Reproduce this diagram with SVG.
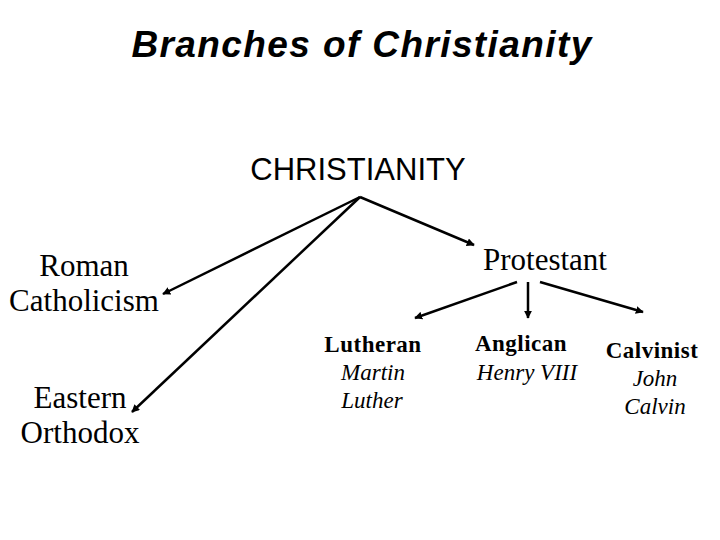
<svg xmlns="http://www.w3.org/2000/svg" width="720" height="540" viewBox="0 0 720 540">
<defs>
<marker id="ah" viewBox="0 0 10 10" refX="9" refY="5" markerWidth="3.2" markerHeight="3.2" orient="auto" markerUnits="strokeWidth">
<path d="M0,0 L10,5 L0,10 z" fill="#000"/>
</marker>
<style>
.title{font-family:"Liberation Sans",Arial,sans-serif;font-weight:bold;font-style:italic;font-size:37px;text-anchor:middle;fill:#000;letter-spacing:1.4px}
.root{font-family:"Liberation Sans",Arial,sans-serif;font-size:31px;text-anchor:middle;fill:#000}
.big{font-family:"Liberation Serif","Times New Roman",serif;font-size:31px;text-anchor:middle;fill:#000}
.sb{font-family:"Liberation Serif","Times New Roman",serif;font-weight:bold;font-size:23px;text-anchor:middle;fill:#000;letter-spacing:0.5px}
.si{font-family:"Liberation Serif","Times New Roman",serif;font-style:italic;font-size:23px;text-anchor:middle;fill:#000}
.c{stroke:#000;stroke-width:2.5;fill:none;marker-end:url(#ah)}
</style>
</defs>
<text class="title" x="362" y="57">Branches of Christianity</text>
<g id="christianity"><text class="root" x="358" y="180">CHRISTIANITY</text></g>
<g id="roman"><text class="big" x="84" y="276">Roman</text><text class="big" x="84" y="311">Catholicism</text></g>
<g id="eastern"><text class="big" x="80" y="408">Eastern</text><text class="big" x="80" y="443">Orthodox</text></g>
<g id="protestant"><text class="big" x="545" y="270">Protestant</text></g>
<g id="lutheran"><text class="sb" x="373" y="352">Lutheran</text><text class="si" x="373" y="380">Martin</text><text class="si" x="372" y="408">Luther</text></g>
<g id="anglican"><text class="sb" x="521" y="351">Anglican</text><text class="si" x="527" y="380">Henry VIII</text></g>
<g id="calvinist"><text class="sb" x="652" y="358">Calvinist</text><text class="si" x="655" y="386">John</text><text class="si" x="655" y="414">Calvin</text></g>
<g id="connectors">
<line class="c" x1="360" y1="197" x2="163" y2="294"/>
<line class="c" x1="360" y1="197" x2="132" y2="412"/>
<line class="c" x1="360" y1="197" x2="474" y2="245"/>
<line class="c" x1="517" y1="282" x2="415" y2="318"/>
<line class="c" x1="528" y1="282" x2="528" y2="318"/>
<line class="c" x1="540" y1="282" x2="643" y2="312"/>
</g>
</svg>
